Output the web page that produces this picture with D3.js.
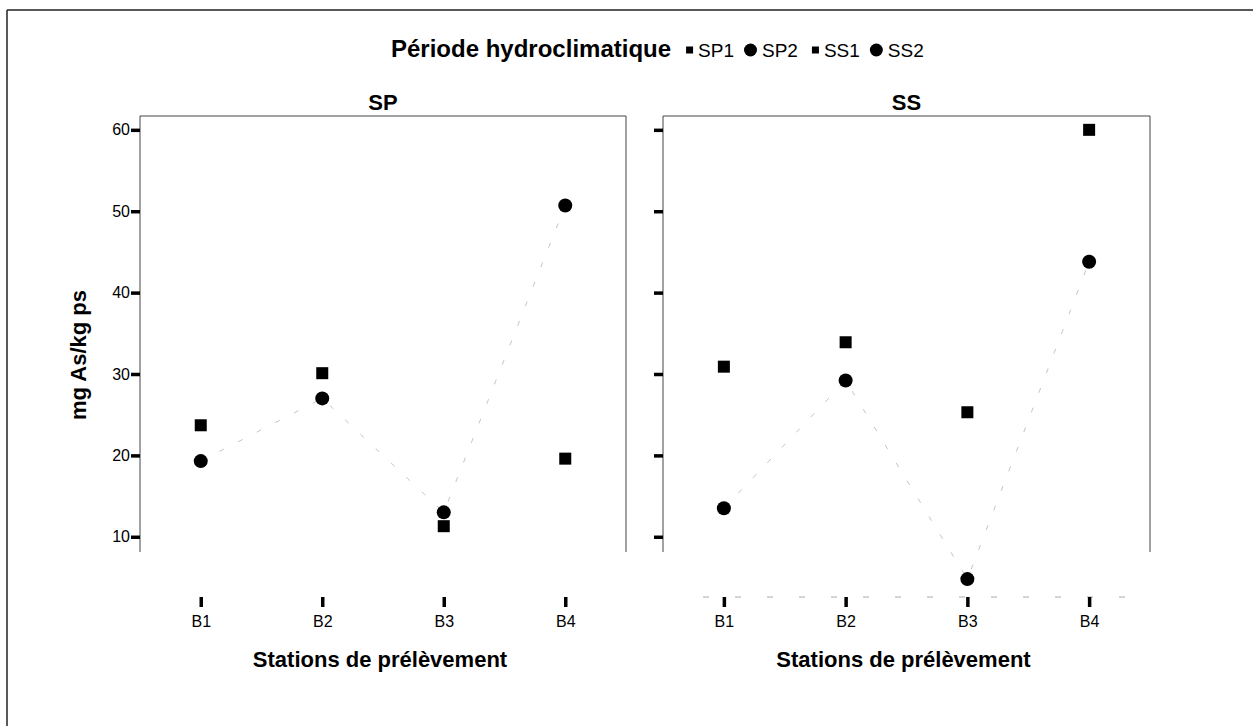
<!DOCTYPE html>
<html>
<head>
<meta charset="utf-8">
<script src="https://cdn.jsdelivr.net/npm/d3@7"></script>
<style>
  html, body { margin: 0; padding: 0; background: #fff; }
  svg { display: block; }
  text { font-family: "Liberation Sans", Arial, sans-serif; fill: #000; }
</style>
</head>
<body>
<svg id="chart" width="1253" height="726"></svg>
<script>
// ---------- data ----------
const stations = ["B1", "B2", "B3", "B4"];
const panelNames = ["SP", "SS"];
const legendLabels = ["SP1", "SP2", "SS1", "SS2"];
const legendShapes = ["square", "circle", "square", "circle"];
const sp1 = [23.7, 30.1, 11.3, 19.6];   // squares, panel SP
const sp2 = [19.3, 27.0, 13.0, 50.7];   // circles, panel SP
const ss1 = [30.9, 33.9, 25.3, 60.0];   // squares, panel SS
const ss2 = [13.5, 29.2, 4.8, 43.8];    // circles, panel SS
const yTicks = [10, 20, 30, 40, 50, 60];
const yTickLabels = ["10", "20", "30", "40", "50", "60"];
const legendTitle = "Période hydroclimatique";
const xTitle = "Stations de prélèvement";
const yTitle = "mg As/kg ps";

// ---------- layout ----------
const svg = d3.select("#chart");
const W = 1253, H = 726;
const panelTop = 116, panelBottom = 597, frameBottom = 552;
const panels = [
  { name: panelNames[0], x0: 140, x1: 626, sq: sp1, ci: sp2, labels: true, bottomDash: false },
  { name: panelNames[1], x0: 663, x1: 1150, sq: ss1, ci: ss2, labels: false, bottomDash: true }
];
const y = d3.scaleLinear().domain([2.6, 61.7]).range([panelBottom, panelTop]);

// outer (scanned page) frame: top and left edges
svg.append("line").attr("x1", 7).attr("x2", W).attr("y1", 10).attr("y2", 10)
  .attr("stroke", "#222").attr("stroke-width", 1.5);
svg.append("line").attr("x1", 7).attr("x2", 7).attr("y1", 10).attr("y2", H)
  .attr("stroke", "#222").attr("stroke-width", 1.5);

panels.forEach(p => {
  const g = svg.append("g");
  const x = d3.scalePoint().domain(stations).range([p.x0, p.x1]).padding(0.5);

  // panel frame (top, left, right)
  g.append("path")
    .attr("d", `M${p.x0},${frameBottom}V${panelTop}H${p.x1}V${frameBottom}`)
    .attr("fill", "none").attr("stroke", "#444").attr("stroke-width", 1);
  if (p.bottomDash) {
    g.append("line").attr("x1", p.x0 + 40).attr("x2", p.x1 - 10)
      .attr("y1", panelBottom).attr("y2", panelBottom)
      .attr("stroke", "#aaa").attr("stroke-width", 1).attr("stroke-dasharray", "6,26");
  }

  // y axis
  const yAxis = d3.axisLeft(y).tickValues(yTicks).tickSize(9).tickPadding(1)
    .tickFormat((d, i) => p.labels ? yTickLabels[i] : "");
  const ya = g.append("g").attr("transform", `translate(${p.x0},0)`).call(yAxis);
  ya.select(".domain").remove();
  ya.selectAll(".tick line").attr("stroke", "#000").attr("stroke-width", 3.5);
  ya.selectAll(".tick text").style("font-size", "16px").attr("fill", "#000")
    .style("font-family", "'Liberation Sans', Arial, sans-serif");

  // x axis
  const xAxis = d3.axisBottom(x).tickSize(10).tickPadding(9);
  const xa = g.append("g").attr("transform", `translate(0,${panelBottom})`).call(xAxis);
  xa.select(".domain").remove();
  xa.selectAll(".tick line").attr("stroke", "#000").attr("stroke-width", 3.5);
  xa.selectAll(".tick text").style("font-size", "16px").attr("fill", "#000")
    .style("font-family", "'Liberation Sans', Arial, sans-serif");

  // faint connecting line of circle series
  const line = d3.line().x((d, i) => x(stations[i])).y(d => y(d));
  g.append("path").datum(p.ci).attr("d", line)
    .attr("fill", "none").attr("stroke", "#c4c4c4").attr("stroke-width", 1)
    .attr("stroke-dasharray", "5,16");

  // squares
  const s = 12;
  g.selectAll("rect.pt").data(p.sq).join("rect").attr("class", "pt")
    .attr("x", (d, i) => x(stations[i]) - s / 2)
    .attr("y", d => y(d) - s / 2)
    .attr("width", s).attr("height", s).attr("fill", "#000");
  // circles
  g.selectAll("circle.pt").data(p.ci).join("circle").attr("class", "pt")
    .attr("cx", (d, i) => x(stations[i]))
    .attr("cy", d => y(d))
    .attr("r", 7).attr("fill", "#000");

  // panel title
  g.append("text").attr("x", (p.x0 + p.x1) / 2).attr("y", 110)
    .attr("text-anchor", "middle").style("font-size", "22px").style("font-weight", "bold")
    .text(p.name);

  // x axis title
  g.append("text").attr("x", (p.x0 + p.x1) / 2 - 3).attr("y", 667)
    .attr("text-anchor", "middle").style("font-size", "22px").style("font-weight", "bold")
    .text(xTitle);
});

// y axis title
svg.append("text").attr("transform", "translate(86,355) rotate(-90)")
  .attr("text-anchor", "middle").style("font-size", "22px").style("font-weight", "bold")
  .text(yTitle);

// legend
const lg = svg.append("g");
const lt = lg.append("text").attr("x", 391).attr("y", 57)
  .style("font-size", "24px").style("font-weight", "bold").text(legendTitle);
let lx = 391 + lt.node().getComputedTextLength() + 15;
const ly = 50;
legendLabels.forEach((lab, i) => {
  if (legendShapes[i] === "square") {
    lg.append("rect").attr("x", lx).attr("y", ly - 3.5).attr("width", 7).attr("height", 7).attr("fill", "#000");
    lx += 7 + 5;
  } else {
    lg.append("circle").attr("cx", lx + 6.5).attr("cy", ly).attr("r", 6.5).attr("fill", "#000");
    lx += 13 + 5;
  }
  const t = lg.append("text").attr("x", lx).attr("y", 57).style("font-size", "19px").text(lab);
  lx += t.node().getComputedTextLength() + (i === 1 ? 14 : 10);
});
</script>
</body>
</html>
